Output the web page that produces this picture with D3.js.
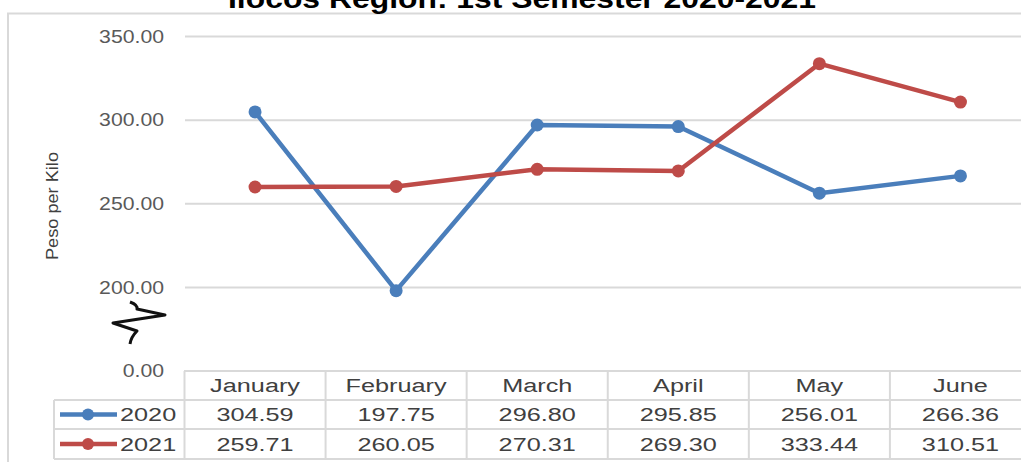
<!DOCTYPE html>
<html><head><meta charset="utf-8">
<script src="https://cdn.jsdelivr.net/npm/d3@7"></script>
<style>
body{margin:0;background:#fff;overflow:hidden;}
svg{display:block;font-family:"Liberation Sans",Arial,sans-serif;}
</style></head>
<body><svg id="c" width="1021" height="462"></svg>
<script>
const months = ["January","February","March","April","May","June"];
const values2020 = [304.59,197.75,296.80,295.85,256.01,266.36];
const values2021 = [259.71,260.05,270.31,269.30,333.44,310.51];
const seriesNames = ["2020","2021"];
const seriesColors = ["#4a7ebb","#be4b48"];
const yTicks = [150,200,250,300,350];
const yTickLabels = ["0.00","200.00","250.00","300.00","350.00"];
const title = "Ilocos Region: 1st Semester 2020-2021";
const yLabel = "Peso per Kilo";

const svg = d3.select("#c");
const series = [values2020, values2021];

// chart frame
svg.append("path").attr("d","M8,462 V13.5 H1021").attr("fill","none").attr("stroke","#d9d9d9").attr("stroke-width",2);

// title (mostly cut off at the top edge, as in the reference)
svg.append("text").attr("x",228).attr("y",8).attr("font-size",27).attr("font-weight","bold")
  .attr("fill","#000").attr("textLength",588).attr("lengthAdjust","spacingAndGlyphs").text(title);

const x = d3.scaleBand().domain(months).range([184.5,1031]).padding(0);
const y = d3.scaleLinear().domain([150,350]).range([370.5,36]);

// y axis with gridlines
const sxAxis = 1.18;
const gy = svg.append("g").attr("transform","translate(185,0)")
  .call(d3.axisLeft(y).tickValues(yTicks).tickSize(-(1021-185)).tickFormat((d,i)=>yTickLabels[i]));
gy.select(".domain").remove();
gy.selectAll(".tick line").attr("stroke","#d9d9d9").attr("stroke-width",2)
  .filter(d=>d===150).remove();
gy.selectAll(".tick text").attr("font-size",18).attr("fill","#595959")
  .attr("font-family","'Liberation Sans',Arial,sans-serif")
  .attr("x",-21/sxAxis).attr("dy","0.35em").attr("transform",`scale(${sxAxis},1)`);

// y label
svg.append("text").attr("transform","translate(58,206) rotate(-90)").attr("text-anchor","middle")
  .attr("font-size",17).attr("fill","#404040").attr("textLength",108).attr("lengthAdjust","spacingAndGlyphs")
  .text(yLabel);

// axis break symbol
svg.append("path").attr("d","M130,302 Q138,305 137,309 L165,315 L113,323 L137,331 Q131,337 130,344")
  .attr("fill","none").attr("stroke","#111").attr("stroke-width",3).attr("stroke-linejoin","round");

// lines
const line = d3.line().x((d,i)=>x(months[i])+x.bandwidth()/2).y(d=>y(d));
series.forEach((vals,si)=>{
  svg.append("path").datum(vals).attr("d",line).attr("fill","none")
    .attr("stroke",seriesColors[si]).attr("stroke-width",4.5).attr("stroke-linejoin","round");
  svg.selectAll(null).data(vals).enter().append("circle")
    .attr("cx",(d,i)=>x(months[i])+x.bandwidth()/2).attr("cy",d=>y(d)).attr("r",6.5)
    .attr("fill",seriesColors[si]);
});

// data table
const rowTops = [371,400,429,459];
const gridC = "#d9d9d9";
const tg = svg.append("g");
tg.append("line").attr("x1",184).attr("x2",1021).attr("y1",rowTops[0]).attr("y2",rowTops[0]).attr("stroke",gridC).attr("stroke-width",2);
[1,2,3].forEach(k=>{
  tg.append("line").attr("x1",54).attr("x2",1021).attr("y1",rowTops[k]).attr("y2",rowTops[k]).attr("stroke",gridC).attr("stroke-width",2);
});
tg.append("line").attr("x1",54).attr("x2",54).attr("y1",rowTops[1]).attr("y2",rowTops[3]).attr("stroke",gridC).attr("stroke-width",2);
months.forEach(m=>{
  tg.append("line").attr("x1",x(m)).attr("x2",x(m)).attr("y1",rowTops[0]).attr("y2",rowTops[3]).attr("stroke",gridC).attr("stroke-width",2);
});
const sxT = 1.33;
function stretchedText(cx,cy,txt,anchor){
  tg.append("text").attr("transform",`translate(${cx},${cy}) scale(${sxT},1)`)
    .attr("text-anchor",anchor||"middle").attr("dy","0.35em").attr("font-size",19).attr("fill","#404040").text(txt);
}
months.forEach(m=>stretchedText(x(m)+x.bandwidth()/2,(rowTops[0]+rowTops[1])/2,m));
series.forEach((vals,si)=>{
  const cy=(rowTops[si+1]+rowTops[si+2])/2;
  vals.forEach((v,i)=>stretchedText(x(months[i])+x.bandwidth()/2,cy,v.toFixed(2)));
  tg.append("line").attr("x1",60).attr("x2",117).attr("y1",cy).attr("y2",cy).attr("stroke",seriesColors[si]).attr("stroke-width",4.5);
  tg.append("circle").attr("cx",88).attr("cy",cy).attr("r",6).attr("fill",seriesColors[si]);
  stretchedText(120,cy,seriesNames[si],"start");
});
</script>
</body></html>
